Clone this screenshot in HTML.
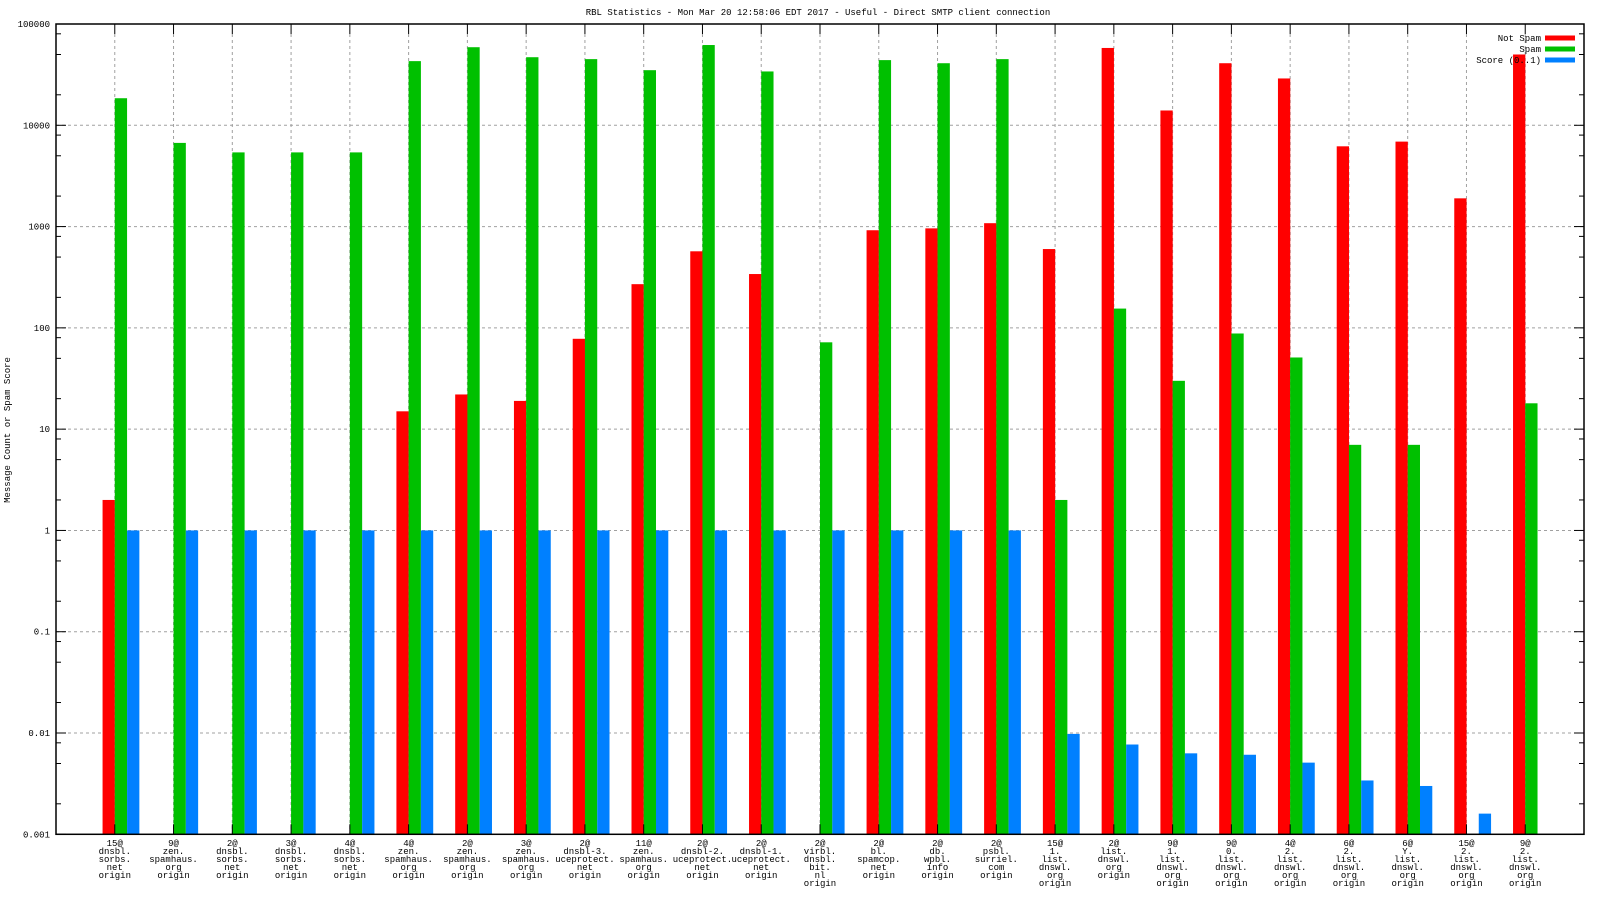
<!DOCTYPE html>
<html><head><meta charset="utf-8"><style>
body{margin:0;background:#fff;}
svg text{font-family:"Liberation Mono","DejaVu Sans Mono",monospace;font-size:9px;fill:#000;}
</style></head><body>
<svg id="chart" width="1600" height="900" xmlns="http://www.w3.org/2000/svg">
<text x="818" y="15" text-anchor="middle">RBL Statistics - Mon Mar 20 12:58:06 EDT 2017 - Useful - Direct SMTP client connection</text>
<text transform="translate(10,430) rotate(-90)" text-anchor="middle">Message Count or Spam Score</text>
<g id="grid"></g><g id="bars"></g><g id="axes"></g><g id="legend"></g>
</svg>
<script>
const categories=[["15@","dnsbl.","sorbs.","net","origin"],["9@","zen.","spamhaus.","org","origin"],["2@","dnsbl.","sorbs.","net","origin"],["3@","dnsbl.","sorbs.","net","origin"],["4@","dnsbl.","sorbs.","net","origin"],["4@","zen.","spamhaus.","org","origin"],["2@","zen.","spamhaus.","org","origin"],["3@","zen.","spamhaus.","org","origin"],["2@","dnsbl-3.","uceprotect.","net","origin"],["11@","zen.","spamhaus.","org","origin"],["2@","dnsbl-2.","uceprotect.","net","origin"],["2@","dnsbl-1.","uceprotect.","net","origin"],["2@","virbl.","dnsbl.","bit.","nl","origin"],["2@","bl.","spamcop.","net","origin"],["2@","db.","wpbl.","info","origin"],["2@","psbl.","surriel.","com","origin"],["15@","1.","list.","dnswl.","org","origin"],["2@","list.","dnswl.","org","origin"],["9@","1.","list.","dnswl.","org","origin"],["9@","0.","list.","dnswl.","org","origin"],["4@","2.","list.","dnswl.","org","origin"],["6@","2.","list.","dnswl.","org","origin"],["6@","Y.","list.","dnswl.","org","origin"],["15@","2.","list.","dnswl.","org","origin"],["9@","2.","list.","dnswl.","org","origin"]];
const notSpam=[2,null,null,null,null,15,22,19,78,270,570,340,null,920,960,1080,600,58000,14000,41000,29000,6200,6900,1900,50000];
const spam=[18500,6700,5400,5400,5400,43000,59000,47000,45000,35000,62000,34000,72,44000,41000,45000,2,155,30,88,51,7,7,null,18];
const score=[1,1,1,1,1,1,1,1,1,1,1,1,1,1,1,1,0.0098,0.0077,0.0063,0.0061,0.0051,0.0034,0.003,0.0016,null];
const yTickValues=[0.001,0.01,0.1,1,10,100,1000,10000,100000];
const yTickLabels=["0.001","0.01","0.1","1","10","100","1000","10000","100000"];
const seriesNames=["Not Spam","Spam","Score (0..1)"];

const NS="http://www.w3.org/2000/svg";
const L=56,R=1584,T=24,B=834.3;
const xs=i=>L+(i+1)*(R-L)/26;
const ys=v=>B-(Math.log10(v)+3)*(B-T)/8;
function mk(tag,attrs,parent){const e=document.createElementNS(NS,tag);for(const k in attrs)e.setAttribute(k,attrs[k]);document.getElementById(parent).appendChild(e);return e;}
const grid="grid",bars="bars",axes="axes",legend="legend";
// horizontal grid
yTickValues.forEach((v,i)=>{
  if(i>0&&i<yTickValues.length-1){
    const g=mk("line",{x1:L,x2:R,y1:ys(v),y2:ys(v),stroke:"#a0a0a0","stroke-dasharray":"3,3"},grid);
    
    
  }
});
// vertical grid
categories.forEach((c,i)=>{
  const g=mk("line",{x1:xs(i),x2:xs(i),y1:T+10,y2:B,stroke:"#a0a0a0","stroke-dasharray":"3,3"},grid);
  
  
});
// bars
const colors=["#ff0000","#00c000","#0080ff"];
const offs=[-12.2,0,12.3];
[notSpam,spam,score].forEach((s,si)=>{
  s.forEach((v,i)=>{
    if(v==null)return;
    const y=ys(v);
    const r=mk("rect",{x:xs(i)+offs[si],y:y,width:12.3,height:B-y,fill:colors[si]},bars);
    
    
  });
});
// axes border
const bd=mk("rect",{x:L,y:T,width:R-L,height:B-T,fill:"none",stroke:"#000","stroke-width":1.5},axes);


// y ticks
yTickValues.forEach((v,i)=>{
  const y=ys(v);
  mk("line",{x1:L,x2:L+10,y1:y,y2:y,stroke:"#000"},axes);
  mk("line",{x1:R-10,x2:R,y1:y,y2:y,stroke:"#000"},axes);
  const t=mk("text",{x:L-6,y:y+3,"text-anchor":"end"},axes);
  t.textContent=yTickLabels[i];
  
  
  if(i<yTickValues.length-1){
    [2,5,8].forEach(m=>{const yy=ys(v*m);
      mk("line",{x1:L,x2:L+5,y1:yy,y2:yy,stroke:"#000"},axes);
      mk("line",{x1:R-5,x2:R,y1:yy,y2:yy,stroke:"#000"},axes);});
  }
});
// x ticks + labels
categories.forEach((c,i)=>{
  const x=xs(i);
  mk("line",{x1:x,x2:x,y1:B,y2:B-10,stroke:"#000"},axes);
  mk("line",{x1:x,x2:x,y1:T,y2:T+10,stroke:"#000"},axes);
  const t=mk("text",{x:x,y:846,"text-anchor":"middle"},axes);
  
  
  c.forEach((ln,j)=>{const ts=document.createElementNS(NS,"tspan");ts.setAttribute("x",x);ts.setAttribute("dy",j?8:0);ts.textContent=ln;t.appendChild(ts);});
});
// legend
seriesNames.forEach((n,i)=>{
  const y=38+i*11;
  const t=mk("text",{x:1541,y:y+3,"text-anchor":"end"},legend);
  t.textContent=n;
  
  
  const r=mk("rect",{x:1545,y:y-2.5,width:30,height:5,fill:colors[i]},legend);
  
  
});
</script>
</body></html>
